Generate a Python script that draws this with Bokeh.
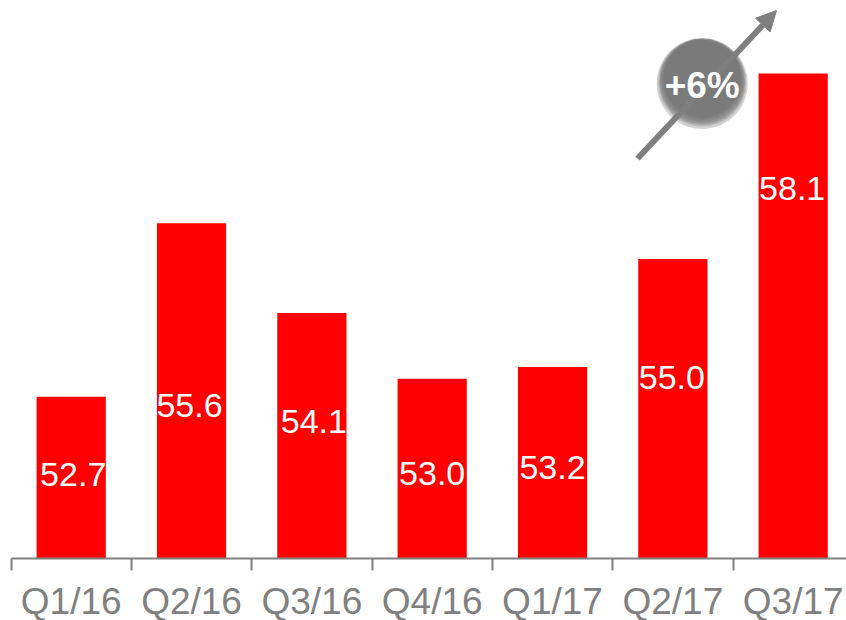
from bokeh.plotting import figure
from bokeh.models import ColumnDataSource, FixedTicker, Arrow, NormalHead, Label
from bokeh.core.properties import value
from bokeh.embed import file_html
from bokeh.resources import INLINE

quarters = ["Q1/16", "Q2/16", "Q3/16", "Q4/16", "Q1/17", "Q2/17", "Q3/17"]
revenue = [52.7, 55.6, 54.1, 53.0, 53.2, 55.0, 58.1]
label_dx = [2, -2, 2, 0, 0, -1, -1]
label_dy = [-3, 15, -14, 5, 5, -31, -127]
labels = [f"{v:.1f}" for v in revenue]

RED = "#ff0000"
GRAY = "#808080"
PX_X = 120.33
PX_Y = 59.88
W, H = 846, 620
LEFT_PAGE, TOP_PAGE = 0, 0
BASE_PAGE = 558
X0_PAGE = 70.7
Y0 = 50.0

def dx(px):
    return (px - X0_PAGE) / PX_X

def dy(py):
    return Y0 + (BASE_PAGE - py) / PX_Y

xs = list(range(len(quarters)))
p = figure(width=W, height=H, output_backend="svg", toolbar_location=None,
           x_range=(dx(LEFT_PAGE), dx(LEFT_PAGE + W)),
           y_range=(Y0, dy(TOP_PAGE)),
           frame_width=W, frame_height=BASE_PAGE - TOP_PAGE,
           min_border_left=0, min_border_right=0, min_border_top=0,
           min_border_bottom=0)
p.outline_line_color = None
p.grid.visible = False
p.yaxis.visible = False
p.background_fill_color = "white"

src = ColumnDataSource(dict(x=xs, top=revenue, label=labels,
                            mid=[(v + Y0) / 2 for v in revenue],
                            dx=label_dx, dy=label_dy))
p.vbar(x="x", top="top", bottom=Y0, width=69.2 / PX_X, source=src,
       fill_color=RED, line_color=None)
p.text(x="x", y="mid", text="label", x_offset="dx", y_offset="dy", source=src,
       text_color="white", text_font=value("Liberation Sans"), text_font_size="34px",
       text_align="center", text_baseline="middle")

ax = p.xaxis[0]
ax.ticker = FixedTicker(ticks=xs, minor_ticks=[i - 0.5 for i in range(len(xs) + 1)])
ax.major_label_overrides = {i: q for i, q in enumerate(quarters)}
ax.major_label_text_font = "Liberation Sans"
ax.major_label_text_font_size = "37px"
ax.major_label_text_line_height = 1.0
ax.major_label_text_color = GRAY
ax.major_label_standoff = 10
ax.major_tick_line_color = None
ax.major_tick_in = 0
ax.major_tick_out = 0
ax.minor_tick_line_color = GRAY
ax.minor_tick_line_width = 2
ax.minor_tick_in = 0
ax.minor_tick_out = 12
ax.axis_line_color = GRAY
ax.axis_line_width = 2
ax.bounds = (-0.5, dx(LEFT_PAGE + W))

# growth arrow
p.add_layout(Arrow(x_start=dx(637), y_start=dy(158), x_end=dx(776), y_end=dy(10),
                   line_color="#7f7f7f", line_width=6,
                   end=NormalHead(size=20, line_color="#7f7f7f", line_width=1, fill_color="#7f7f7f")))

# shaded ball: stacked discs
cx, cy, r = 701.7, 83.0, 45.5
shades = ["#d4d4d4", "#b8b8b8", "#a0a0a0", "#929292", "#8a8a8a", "#858585", "#808080", "#7c7c7c", "#7a7a7a"]
n = len(shades)
for i, c in enumerate(shades):
    t = i / (n - 1)
    rr = r * (1 - 0.16 * t ** 0.8) if i else r
    p.scatter([dx(cx)], [dy(cy - (r - rr) * 0.75)], size=2 * rr, marker="circle",
              fill_color=c, line_color=None)

p.add_layout(Label(x=dx(cx), y=dy(85), text="+6%", text_color="white",
                   text_font="Liberation Sans", text_font_style="bold", text_font_size="37px",
                   text_align="center", text_baseline="middle"))

open("out.html", "w").write(file_html(p, INLINE))
